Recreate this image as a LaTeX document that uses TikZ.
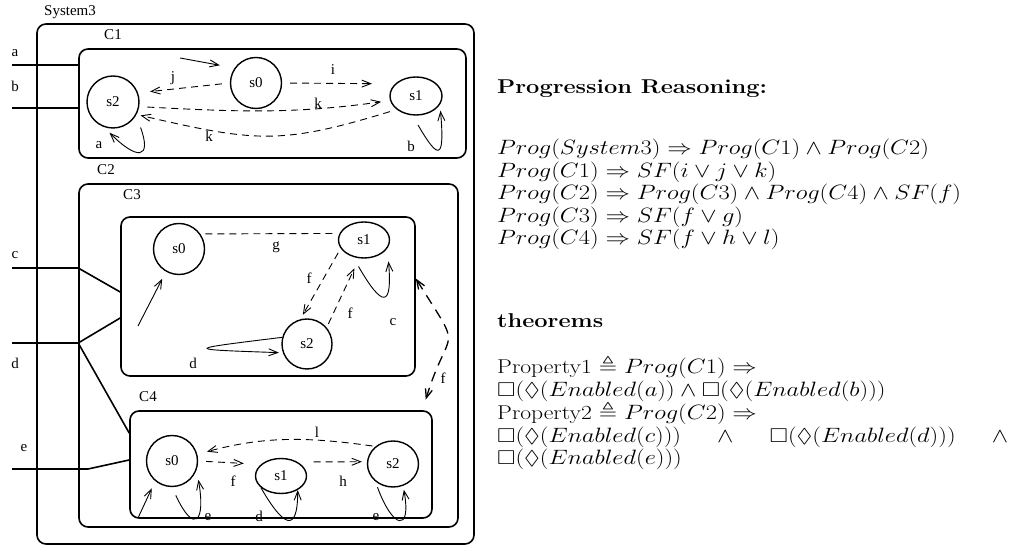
\documentclass[tikz,border=0pt]{standalone}
\usepackage{amssymb}
\usepackage{fontspec}
\usepackage{tikz}
\usetikzlibrary{shapes.geometric, arrows.meta, positioning, calc}
\newfontfamily\figfont{Liberation Serif}
\newcommand{\widetext}[1]{\scalebox{1.18}[1]{#1}}

\begin{document}
\begin{tikzpicture}[
    x=1pt, y=1pt,
    box/.style={draw, line width=1.6pt, rounded corners=9pt, inner sep=0pt},
    state/.style={circle, draw, line width=1.4pt, minimum size=51pt, inner sep=0pt, font=\figfont\fontsize{15}{17}\selectfont},
    ostate/.style={ellipse, draw, line width=1.4pt, inner sep=0pt, font=\figfont\fontsize{15}{17}\selectfont},
    lbl/.style={inner sep=0pt, font=\figfont\fontsize{15}{17}\selectfont},
    wire/.style={line width=1.6pt},
    arr/.style={-{Straight Barb[length=9pt,width=7pt]}, line width=0.9pt},
    dasharr/.style={arr, dash pattern=on 7pt off 5pt},
    dline/.style={line width=0.9pt, dash pattern=on 7pt off 5pt},
    bigdash/.style={{Straight Barb[length=9pt,width=7pt]}-{Straight Barb[length=9pt,width=7pt]}, line width=1.3pt, dash pattern=on 10pt off 7pt},
    rtext/.style={anchor=base west, inner sep=0pt, font=\fontsize{20}{24}\selectfont}
]
    \useasboundingbox (0,0) rectangle (1016,548);

    % Boxes
    \node[box, minimum width=437pt, minimum height=520pt] (sys) at (255.5,264) {};
    \node[lbl] (syslbl) at (70,536) {System3};
    \node[box, minimum width=387pt, minimum height=109pt] (cone) at (272.5,444.5) {};
    \node[lbl] (conelbl) at (113,513) {C1};
    \node[box, minimum width=379pt, minimum height=343pt] (ctwo) at (268.5,192.5) {};
    \node[lbl] (ctwolbl) at (106,378) {C2};
    \node[box, minimum width=294pt, minimum height=159pt] (cthree) at (268,251.5) {};
    \node[lbl] (cthreelbl) at (132,353) {C3};
    \node[box, minimum width=302pt, minimum height=107pt] (cfour) at (281,83.5) {};
    \node[lbl] (cfourlbl) at (148,151) {C4};

    % Inputs
    \coordinate (ina) at (12,483);
    \coordinate (inb) at (12,440);
    \coordinate (inc) at (12,280);
    \coordinate (ind) at (12,205);
    \coordinate (ine) at (12,79);
    \draw[wire] (ina) -- (ina -| cone.west);
    \draw[wire] (inb) -- (inb -| cone.west);
    \draw[wire] (inc) -- (inc -| ctwo.west) -- ([yshift=4.5pt]cthree.west);
    \draw[wire] (ind) -- (ind -| ctwo.west) coordinate (dsplit) -- ([yshift=-21.5pt]cthree.west);
    \draw[wire] (dsplit) -- ([yshift=31.5pt]cfour.west);
    \draw[wire] (ine) -- ++(76,0) -- ([yshift=4.5pt]cfour.west);
    \node[lbl] (la) at (15,495) {a};
    \node[lbl] (lb) at (15,462) {b};
    \node[lbl] (lc) at (15,293) {c};
    \node[lbl] (ld) at (15,185) {d};
    \node[lbl] (le) at (24,100) {e};

    % C1
    \node[state, minimum size=52pt] (c1s2) at (113,446) {s2};
    \node[state] (c1s0) at (256,465) {s0};
    \node[ostate, minimum width=52pt, minimum height=38pt] (c1s1) at (416,452) {s1};
    \coordinate (c1in) at (180,490);
    \draw[arr, shorten >=15pt] (c1in) -- (c1s0.145);
    \draw[dasharr, shorten <=8pt, shorten >=12pt] (c1s0.180) -- (c1s2.20);
    \draw[dasharr, shorten <=8pt, shorten >=23pt] (c1s0.0) -- (c1s1.150);
    \draw[dasharr, shorten <=8pt, shorten >=9pt] (c1s2.-10) to[out=-3, in=188] (c1s1.190);
    \draw[dasharr, shorten <=7pt, shorten >=4pt] (c1s1.215) to[out=197, in=-13, looseness=1.2] (c1s2.-28);
    \draw[arr, shorten <=13pt, shorten >=8pt] (c1s2.-30) to[out=-70, in=-45, looseness=3.5] (c1s2.-110);
    \draw[arr, shorten <=11pt, shorten >=6pt] (c1s1.-100) to[out=-60, in=-85, looseness=4.7] (c1s1.-20);
    \node[lbl] (lj) at (173,470) {j};
    \node[lbl] (li) at (333,478) {i};
    \node[lbl] (lk1) at (318,445) {k};
    \node[lbl] (lk2) at (209,412) {k};
    \node[lbl] (la1) at (99,403) {a};
    \node[lbl] (lb1) at (411,402) {b};

    % C3
    \node[state] (c3s0) at (179,299) {s0};
    \node[ostate, minimum width=51pt, minimum height=36pt] (c3s1) at (364,308) {s1};
    \node[state, minimum size=50pt] (c3s2) at (307,204) {s2};
    \coordinate (c3in) at (138,222);
    \draw[arr, shorten >=8pt] (c3in) -- (c3s0.-120);
    \draw[dline, shorten <=5pt, shorten >=3pt] (c3s0.35) -- (c3s1.165);
    \draw[dasharr, shorten <=5pt, shorten >=5pt] (c3s1.200) -- (c3s2.105);
    \draw[dasharr, shorten <=4pt, shorten >=11pt] (c3s2.40) -- (c3s1.-105);
    \draw[arr, shorten <=11pt, shorten >=13pt] (c3s1.-123) to[out=-60, in=-85, looseness=4.3] (c3s1.-20);
    \draw[arr, shorten >=4pt] (c3s2.165) .. controls +(187:100) and +(178:100) .. (c3s2.200);
    \node[lbl] (lg) at (276,301) {g};
    \node[lbl] (lf1) at (309,270) {f};
    \node[lbl] (lf2) at (350,235) {f};
    \node[lbl] (lc3) at (393,226) {c};
    \node[lbl] (ld3) at (193,185) {d};

    % C4 -> C3
    \draw[bigdash, shorten <=11pt] (cfour.21) to[out=73, in=-58, looseness=1.8] ([yshift=18pt]cthree.east);
    \node[lbl] (lf3) at (443,170) {f};

    % C4
    \node[state] (c4s0) at (172,87) {s0};
    \node[ostate, minimum width=51pt, minimum height=35pt] (c4s1) at (281,72) {s1};
    \node[ostate, minimum width=51pt, minimum height=46pt] (c4s2) at (393,84) {s2};
    \coordinate (c4in) at (138,30);
    \draw[arr, shorten >=8pt] (c4in) -- (c4s0.-130);
    \draw[dasharr, shorten <=8pt, shorten >=17pt] (c4s0.0) -- (c4s1.150);
    \draw[dasharr, shorten <=16pt, shorten >=5pt] (c4s1.40) -- (c4s2.175);
    \draw[dasharr, shorten <=3pt, shorten >=10pt] (c4s2.135) to[out=172, in=15] (c4s0.15);
    \draw[arr, shorten <=9pt, shorten >=10pt] (c4s0.-90) to[out=-65, in=-80, looseness=4.5] (c4s0.-20);
    \draw[arr] (c4s1.-150) to[out=-60, in=-90, looseness=3.1] (c4s1.-40);
    \draw[arr, shorten <=6pt, shorten >=4pt] (c4s2.-135) to[out=-70, in=-80, looseness=4.5] (c4s2.-65);
    \node[lbl] (lf4) at (233,67) {f};
    \node[lbl] (lh) at (343,67) {h};
    \node[lbl] (ll) at (317,116) {l};
    \node[lbl] (le1) at (208,31) {e};
    \node[lbl] (ld4) at (259,32) {d};
    \node[lbl] (le2) at (376,31) {e};

    % Progression reasoning
    \node[rtext] (hdprog) at (497,454) {\widetext{\textbf{Progression Reasoning:}}};
    \node[rtext] (prsys) at (497,393) {\widetext{$Prog(System3) \Rightarrow Prog(C1) \wedge Prog(C2)$}};
    \node[rtext] (prone) at (497,370) {\widetext{$Prog(C1) \Rightarrow SF(i \vee j \vee k)$}};
    \node[rtext] (prtwo) at (497,348) {\widetext{$Prog(C2) \Rightarrow Prog(C3) \wedge Prog(C4) \wedge SF(f)$}};
    \node[rtext] (prthree) at (497,325) {\widetext{$Prog(C3) \Rightarrow SF(f \vee g)$}};
    \node[rtext] (prfour) at (497,303) {\widetext{$Prog(C4) \Rightarrow SF(f \vee h \vee l)$}};

    % Theorems
    \node[rtext] (hdthm) at (497,220) {\widetext{\textbf{theorems}}};
    \node[rtext] (propone) at (497,174) {\widetext{Property1 $\triangleq Prog(C1) \Rightarrow$}};
    \node[rtext] (thmab) at (497,151) {\widetext{$\Box(\Diamond(Enabled(a)) \wedge \Box(\Diamond(Enabled(b)))$}};
    \node[rtext] (proptwo) at (497,128) {\widetext{Property2 $\triangleq Prog(C2) \Rightarrow$}};
    \node[rtext] (thmcd) at (497,105) {\widetext{\hbox to 433pt{$\Box(\Diamond(Enabled(c)))$\hfill$\wedge$\hfill$\Box(\Diamond(Enabled(d)))$\hfill$\wedge$}}};
    \node[rtext] (thme) at (497,83) {\widetext{$\Box(\Diamond(Enabled(e)))$}};
\end{tikzpicture}
\end{document}
